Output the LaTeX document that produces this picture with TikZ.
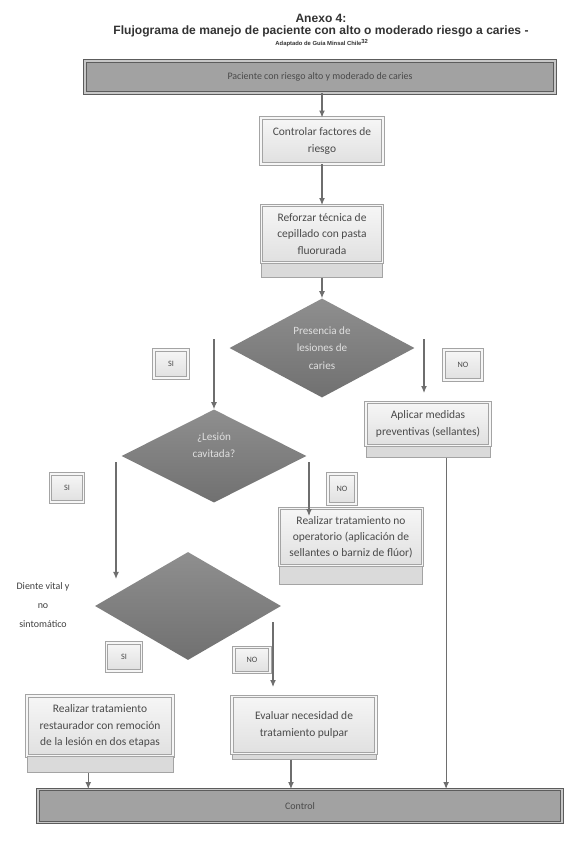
\documentclass[tikz,border=0pt]{standalone}
\usepackage{fontspec}
\setmainfont{Carlito}
\newfontfamily\headfont{Liberation Sans}
\usepackage{tikz}
\usetikzlibrary{shapes.geometric, arrows.meta, positioning, calc}
\definecolor{boxline}{HTML}{A4A4A4}
\definecolor{boxtop}{HTML}{F6F6F6}
\definecolor{boxbot}{HTML}{E0E0E0}
\definecolor{bandgray}{HTML}{DADADA}
\definecolor{termgray}{HTML}{A2A2A2}
\definecolor{termline}{HTML}{5C5C5C}
\definecolor{inkgray}{HTML}{4A4A4A}
\definecolor{arrowgray}{HTML}{6E6E6E}
\colorlet{dectop}{black!44}
\colorlet{decbot}{black!56}
\newcommand{\pxu}{0.03cm}

\begin{document}
\begin{tikzpicture}[x=0.03cm, y=-0.03cm,
  sz/.style 2 args={minimum width=#1*\pxu, minimum height=#2*\pxu},
  proc/.style={draw=boxline, line width=0.7pt, double=boxtop, double distance=1.3pt, top color=boxtop, bottom color=boxbot,
    align=center, text=inkgray, font=\fontsize{9.8}{13.8}\selectfont, inner sep=0pt},
  band/.style={draw=boxline, line width=0.7pt, fill=bandgray, inner sep=0pt},
  term/.style={draw=termline, line width=0.7pt, double=termgray!60, double distance=1.6pt, fill=termgray,
    text=inkgray, font=\fontsize{8.5}{10}\selectfont, inner sep=0pt},
  dec/.style={diamond, aspect=1.9, top color=dectop, bottom color=decbot, draw=none,
    inner sep=0pt, text=black!12, align=center, font=\fontsize{9.5}{15}\selectfont},
  dectext/.style={inner sep=0pt, text=black!12, align=center, font=\fontsize{9.5}{15}\selectfont},
  tag/.style={proc, font=\fontsize{7}{8}\selectfont},
  note/.style={align=center, text=black!75, font=\fontsize{8.5}{16.5}\selectfont},
  head/.style={text=black!80, font=\headfont\bfseries\fontsize{10.3}{12}\selectfont},
  flow/.style={draw=arrowgray, line width=1pt, -{Latex[length=6pt, width=5pt]}}]

  \fill[white] (0,0) rectangle (584,845);
  \useasboundingbox (0,0) rectangle (584,845);

  % titulo
  \node[head] (hd1) at (321,18) {Anexo 4:};
  \node[head] (hd2) at (321,31) {Flujograma de manejo de paciente con alto o moderado riesgo a caries -};
  \node[head, font=\headfont\bfseries\fontsize{5}{6}\selectfont] (hd3) at (322,43) {Adaptado de Guía Minsal Chile\textsuperscript{32}};

  % cajas
  \node[term, sz={470}{32}] (start) at (320,77) {Paciente con riesgo alto y moderado de caries};
  \node[proc, sz={122}{46}] (b1) at (322,141) {Controlar factores de\\riesgo};
  \node[proc, sz={121}{57}] (b2) at (322,234) {Reforzar técnica de\\cepillado con pasta\\fluorurada};
  \node[band, sz={121}{14}, below=0pt of b2] (b2s) {};
  \node[dec, sz={185}{99}] (d1) at (322,348) {Presencia de\\lesiones de\\caries};
  \node[tag, sz={34}{28}] (si1) at (171,364) {SI};
  \node[tag, sz={38}{30}] (no1) at (463,365) {NO};
  \node[proc, sz={124}{43}] (b3) at (428,424) {Aplicar medidas\\preventivas (sellantes)};
  \node[band, sz={124}{11}, below=0pt of b3] (b3s) {};

  \node[dec, sz={185}{93}] (d2) at (214,456) {};
  \node[dectext] (d2t) at (214,445) {¿Lesión\\cavitada?};
  \node[tag, sz={33}{28}] (si2) at (67,488) {SI};
  \node[tag, sz={28}{30}] (no2) at (342,489) {NO};
  \node[proc, sz={143}{57}] (b4) at (351,537) {Realizar tratamiento no\\operatorio (aplicación de\\sellantes o barniz de flúor)};
  \node[band, sz={143}{18}, below=0pt of b4] (b4s) {};

  \node[dec, sz={186}{108}] (d3) at (188,606) {};
  \node[note] (d3l) at (43,605) {Diente vital y\\no\\sintomático};
  \node[tag, sz={35}{28}] (si3) at (124,657) {SI};
  \node[tag, sz={36}{25}] (no3) at (252,660) {NO};
  \node[proc, sz={146}{60}] (b5) at (100,726) {Realizar tratamiento\\restaurador con remoción\\de la lesión en dos etapas};
  \node[band, sz={146}{16}, below=0pt of b5] (b5s) {};
  \node[proc, sz={144}{57}] (b6) at (304,725) {Evaluar necesidad de\\tratamiento pulpar};
  \node[band, sz={144}{5}, below=0pt of b6] (b6s) {};

  \node[term, sz={524}{33}] (ctrl) at (300,806) {Control};

  % conectores
  \coordinate (p1) at (214,339);
  \coordinate (p2) at (424,339);
  \coordinate (p3) at (116,462);
  \coordinate (p3e) at (116,579);
  \coordinate (p4) at (309,462);
  \coordinate (p5) at (273,622);

  \draw[flow] (b1.north |- start.south) -- (b1.north);
  \draw[flow] (b1.south) -- (b2.north);
  \draw[flow] (b2s.south) -- (d1.north);
  \draw[flow] (p1) -- (d2.north);
  \draw[flow, shorten >=9*\pxu] (p2) -- (p2 |- b3.north);
  \draw[flow] (p3) -- (p3e);
  \draw[flow] (p4) -- ([yshift=-8*\pxu]p4 |- b4.north);
  \draw[flow] (p5) -- ([yshift=9*\pxu]p5 |- b6.north);
  \draw[flow] ($(b5s.south west)!0.42!(b5s.south east)$) coordinate (q1) -- (q1 |- ctrl.north);
  \draw[flow] ($(b6s.south west)!0.41!(b6s.south east)$) coordinate (q2) -- (q2 |- ctrl.north);
  \draw[flow] ($(b3s.south west)!0.645!(b3s.south east)$) coordinate (q3) -- (q3 |- ctrl.north);
\end{tikzpicture}
\end{document}
